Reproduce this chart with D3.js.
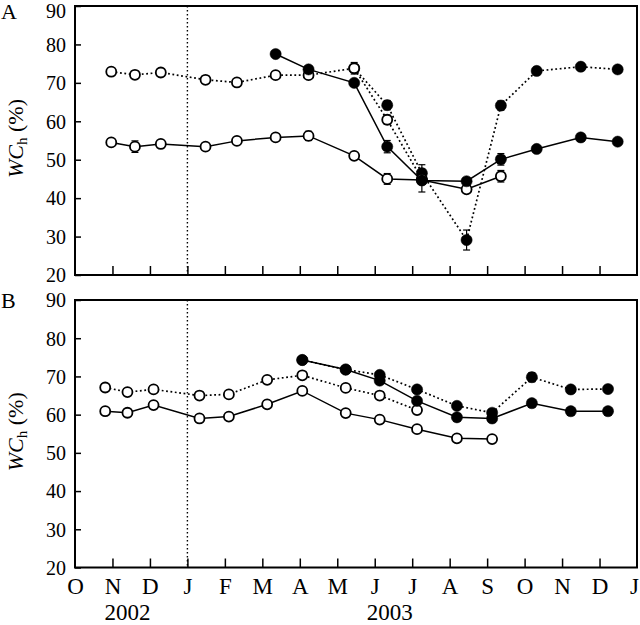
<!DOCTYPE html>
<html><head><meta charset="utf-8">
<script src="https://cdn.jsdelivr.net/npm/d3@7"></script>
<style>body{margin:0;background:#fff}svg{display:block}text{font-family:"Liberation Serif","Times New Roman",Times,serif;fill:#000}</style>
</head><body><svg id="c" width="640" height="625"></svg>
<script>
// ---------- data ----------
const monthLabels = ["O","N","D","J","F","M","A","M","J","J","A","S","O","N","D","J"];
const yearLabels = ["2002","2003"];
const yTicks = [20,30,40,50,60,70,80,90];

const datesA = ["2002-10-31","2002-11-19","2002-12-10","2003-01-16","2003-02-10","2003-03-12","2003-04-08","2003-05-15","2003-06-11","2003-07-09","2003-08-15","2003-09-12","2003-10-11","2003-11-16","2003-12-16"];
const openDotA    = [72.9,72.1,72.7,70.8,70.1,72.0,72.0,73.8,60.4,45.0,null,null,null,null,null];
const openDotAErr = [0,0,0,0,0,0,0,1.5,1.2,0,0,0,0,0,0];
const openSolidA    = [54.5,53.4,54.1,53.4,54.9,55.8,56.2,51.0,45.0,44.7,42.3,45.7,null,null,null];
const openSolidAErr = [0,1.5,0,0,0,0,1.2,0,1.4,0,0.8,1.5,0,0,0];
const filledSolidA    = [null,null,null,null,null,77.5,73.5,70.0,53.4,44.6,44.4,50.1,52.8,55.8,54.7];
const filledSolidAErr = [0,0,0,0,0,0,0,0,1.6,3.0,0,1.5,0,1.0,0];
const filledDotA    = [null,null,null,null,null,null,null,73.8,64.2,46.5,29.1,64.1,73.1,74.2,73.5];
const filledDotAErr = [0,0,0,0,0,0,0,0,1.2,2.2,2.6,1.2,1.0,0,0];

const datesB = ["2002-10-26","2002-11-13","2002-12-04","2003-01-11","2003-02-04","2003-03-05","2003-04-03","2003-05-08","2003-06-05","2003-07-05","2003-08-07","2003-09-05","2003-10-07","2003-11-08","2003-12-08"];
const openDotB    = [67.1,65.9,66.6,65.0,65.3,69.1,70.3,67.0,65.0,61.2,null,null,null,null,null];
const openSolidB  = [60.9,60.5,62.5,59.0,59.5,62.7,66.2,60.4,58.7,56.2,53.8,53.6,null,null,null];
const filledSolidB = [null,null,null,null,null,null,74.3,71.8,68.9,63.6,59.3,59.0,63.0,60.9,60.9];
const filledDotB   = [null,null,null,null,null,null,74.3,71.8,70.4,66.6,62.3,60.5,69.8,66.6,66.7];
const filledDotBErr = [0,0,0,0,0,0,0,0,0,0,0,0,1.2,0,0];
const zeros = new Array(15).fill(0);

// ---------- helpers ----------
function monthIdx(s){
  const [yy,mm,dd] = s.split("-").map(Number);
  const dim = new Date(yy, mm, 0).getDate();
  return (yy-2002)*12 + (mm-1) - 9 + (dd-1)/dim;
}
const FONT = "'Liberation Serif','Times New Roman',Times,serif";

const svg = d3.select("#c");
const L = 75, R = 637;
const x = d3.scaleLinear().domain([0,15]).range([L,R]);

const panels = [
  {label:"A", top:6, bottom:275, dates:datesA, series:[
    {v:openSolidA, e:openSolidAErr, dotted:false, filled:false},
    {v:filledDotA, e:filledDotAErr, dotted:true, filled:true},
    {v:openDotA, e:openDotAErr, dotted:true, filled:false},
    {v:filledSolidA, e:filledSolidAErr, dotted:false, filled:true}
  ]},
  {label:"B", top:300, bottom:567.5, dates:datesB, series:[
    {v:openSolidB, e:zeros, dotted:false, filled:false},
    {v:openDotB, e:zeros, dotted:true, filled:false},
    {v:filledDotB, e:filledDotBErr, dotted:true, filled:true},
    {v:filledSolidB, e:zeros, dotted:false, filled:true}
  ]}
];

panels.forEach((p, pi) => {
  const y = d3.scaleLinear().domain([20,90]).range([p.bottom, p.top]);
  const g = svg.append("g");

  g.append("rect").attr("x",L).attr("y",p.top).attr("width",R-L).attr("height",p.bottom-p.top)
    .attr("fill","none").attr("stroke","#000").attr("stroke-width",2);

  const ya = g.append("g").attr("transform",`translate(${L},0)`)
    .call(d3.axisLeft(y).tickValues(yTicks).tickSizeInner(-6).tickSizeOuter(0).tickPadding(9));
  ya.attr("font-family", FONT);
  ya.select(".domain").remove();
  ya.selectAll("line").attr("stroke","#000").attr("stroke-width",1.5);
  ya.selectAll("text").attr("font-size",20)
    .attr("dy", d => (pi===0 && d===90) ? "0.55em" : "0.34em");

  const xa = g.append("g").attr("transform",`translate(0,${p.bottom})`)
    .call(d3.axisBottom(x).tickValues(d3.range(1,15)).tickSizeInner(-9).tickSizeOuter(0).tickFormat(""));
  xa.select(".domain").remove();
  xa.selectAll("line").attr("stroke","#000").attr("stroke-width",1.5);

  g.append("line").attr("x1",x(3)).attr("x2",x(3)).attr("y1",p.top).attr("y2",p.bottom)
    .attr("stroke","#000").attr("stroke-width",1.4).attr("stroke-dasharray","1.5,2.5");

  svg.append("text").attr("x",1).attr("y",pi===0?19:308).attr("font-size",22).text(p.label);

  const yt = svg.append("text").attr("transform",`translate(23,${(p.top+p.bottom)/2 - 2}) rotate(-90)`)
    .attr("text-anchor","middle").attr("font-size",22);
  yt.append("tspan").attr("font-style","italic").text("WC");
  yt.append("tspan").attr("font-size",15).attr("dy",4).text("h");
  yt.append("tspan").attr("dy",-4).text("\u00a0(%)");

  const xs = p.dates.map(monthIdx);
  const line = d3.line().defined(d => d.v != null).x(d => x(d.x)).y(d => y(d.v));

  const gl = g.append("g"), gc = g.append("g");
  p.series.forEach(s => {
    const pts = s.v.map((v,i) => ({x:xs[i], v, e:s.e[i]}));
    gl.append("path").datum(pts).attr("d", line).attr("fill","none").attr("stroke","#000")
      .attr("stroke-width", s.dotted ? 1.7 : 1.5)
      .attr("stroke-dasharray", s.dotted ? "1.8,2.6" : null);
  });
  p.series.forEach(s => {
    const pts = s.v.map((v,i) => ({x:xs[i], v, e:s.e[i]})).filter(d => d.v != null);
    const sg = gc.append("g");
    pts.filter(d => d.e > 0).forEach(d => {
      const cx = x(d.x), y1 = y(d.v - d.e), y2 = y(d.v + d.e);
      sg.append("line").attr("x1",cx).attr("x2",cx).attr("y1",y1).attr("y2",y2).attr("stroke","#000").attr("stroke-width",1.2);
      [y1,y2].forEach(yy => sg.append("line").attr("x1",cx-3.5).attr("x2",cx+3.5).attr("y1",yy).attr("y2",yy).attr("stroke","#000").attr("stroke-width",1.2));
    });
    sg.selectAll("circle").data(pts).join("circle")
      .attr("cx", d => x(d.x)).attr("cy", d => y(d.v))
      .attr("r", s.filled ? 5.6 : 5.0)
      .attr("fill", s.filled ? "#000" : "#fff")
      .attr("stroke", "#000").attr("stroke-width", s.filled ? 0.5 : 1.8);
  });

  if (pi === 1) {
    const ma = g.append("g").attr("transform",`translate(0,${p.bottom})`)
      .call(d3.axisBottom(x).tickValues(d3.range(0,16)).tickSize(0).tickPadding(10).tickFormat((d,i) => monthLabels[i]));
    ma.attr("font-family", FONT);
    ma.select(".domain").remove();
    ma.selectAll("text").attr("font-size",23)
      .attr("dx", (d,i) => i === 15 ? -3 : 0);
    const yearPos = [1.4, 8.4];
    yearLabels.forEach((t,i) => svg.append("text").attr("x", x(yearPos[i])).attr("y",620)
      .attr("text-anchor","middle").attr("font-size",23).text(t));
  }
});
</script></body></html>
